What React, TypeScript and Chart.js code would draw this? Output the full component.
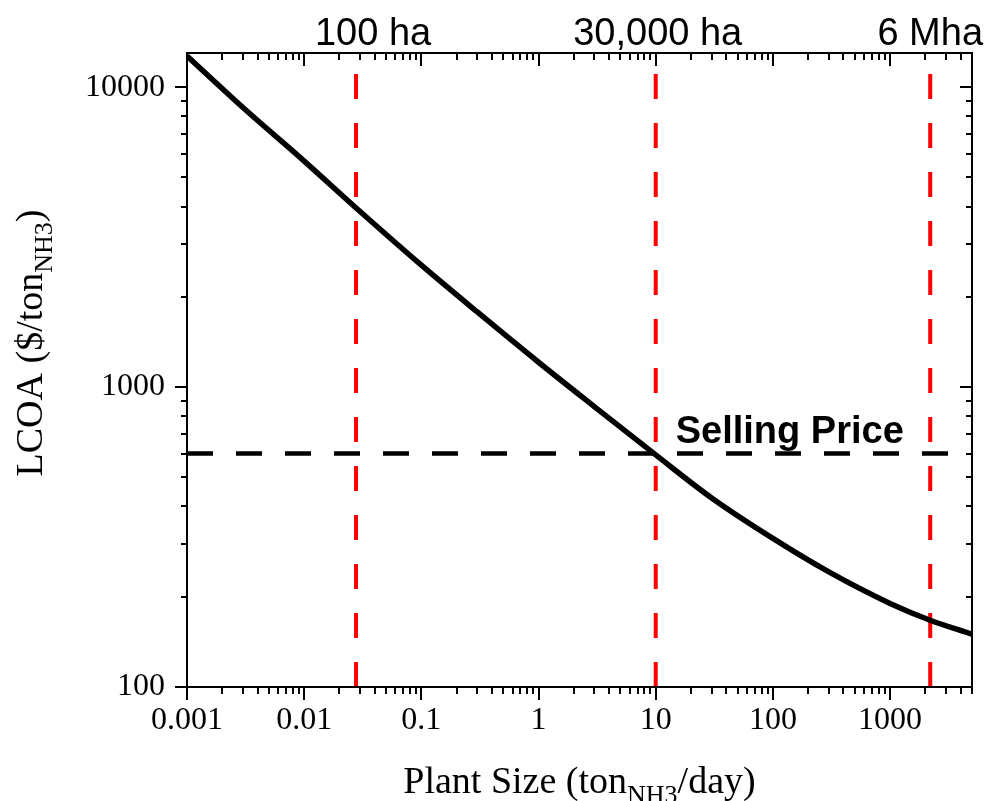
import React, { useEffect, useRef } from 'react';
import { Chart, registerables } from 'chart.js';

Chart.register(...registerables);

// ---- data ----
const plantSize = [0.001, 0.003, 0.01, 0.03, 0.1, 0.3, 1, 3, 10, 30, 100, 300, 1000, 2200, 5000];
const lcoa = [12700, 8550, 5670, 3850, 2550, 1780, 1210, 860, 594, 427, 313, 242, 190, 167, 150];

const landMarkerX = [0.0277, 10, 2200];
const landLabels = ['100 ha', '30,000 ha', '6 Mha'];
const landLabelX = [0.0387, 10.4, 2200];

const sellingPrice = 600;
const sellingLabel = 'Selling Price';
const sellingLabelX = 14.8;
const sellingLabelY = 652;

const xRange = [0.001, 5000];
const yRange = [100, 13000];
const xMajorTicks = [0.001, 0.01, 0.1, 1, 10, 100, 1000];
const yMajorTicks = [100, 1000, 10000];

const xTitle: [string, boolean][] = [['Plant Size (ton', false], ['NH3', true], ['/day)', false]];
const yTitle: [string, boolean][] = [['LCOA ($/ton', false], ['NH3', true], [')', false]];

// ---- helpers ----
const isPow10 = (v: number) => Math.abs(Math.log10(v) - Math.round(Math.log10(v))) < 1e-9;

function withMinors(majors: number[], min: number, max: number) {
  const out: { value: number; major: boolean }[] = [];
  majors.forEach((m) => {
    for (let k = 1; k <= 9; k++) {
      const v = +(m * k).toPrecision(6);
      if (v >= min - 1e-12 && v <= max + 1e-9) out.push({ value: v, major: k === 1 });
    }
  });
  out.sort((a, b) => a.value - b.value);
  return out;
}

const SERIF = '"Liberation Serif", "Times New Roman", serif';
const SANS = '"Liberation Sans", Arial, sans-serif';

function drawRich(ctx: CanvasRenderingContext2D, parts: [string, boolean][], cx: number, cy: number) {
  const mainFont = `38px ${SERIF}`;
  const subFont = `26px ${SERIF}`;
  let total = 0;
  const widths = parts.map(([t, sub]) => {
    ctx.font = sub ? subFont : mainFont;
    const w = ctx.measureText(t).width;
    total += w;
    return w;
  });
  let x = cx - total / 2;
  ctx.textAlign = 'left';
  ctx.textBaseline = 'alphabetic';
  parts.forEach(([t, sub], i) => {
    ctx.font = sub ? subFont : mainFont;
    ctx.fillText(t, x, cy + (sub ? 10 : 0));
    x += widths[i];
  });
}

const framePlugin = {
  id: 'framePlugin',
  afterDraw(chart: any) {
    const { ctx, chartArea } = chart;
    const xs = chart.scales.x;
    const ys = chart.scales.y;
    const { left, right, top, bottom } = chartArea;
    ctx.save();
    ctx.strokeStyle = '#000';
    ctx.lineWidth = 2;
    ctx.strokeRect(left, top, right - left, bottom - top);
    ctx.beginPath();
    xs.ticks.forEach((t: any) => {
      const px = Math.round(xs.getPixelForValue(t.value));
      const len = t.major ? 13 : 7;
      ctx.moveTo(px, bottom);
      ctx.lineTo(px, bottom + len);
      ctx.moveTo(px, top);
      ctx.lineTo(px, top + len);
    });
    ys.ticks.forEach((t: any) => {
      const py = Math.round(ys.getPixelForValue(t.value));
      const len = t.major ? 12 : 6;
      ctx.moveTo(left - len, py);
      ctx.lineTo(left, py);
      ctx.moveTo(right - len, py);
      ctx.lineTo(right, py);
    });
    ctx.stroke();

    // top labels
    ctx.fillStyle = '#000';
    ctx.font = `38px ${SANS}`;
    ctx.textAlign = 'center';
    ctx.textBaseline = 'alphabetic';
    landLabels.forEach((lab, i) => {
      ctx.fillText(lab, xs.getPixelForValue(landLabelX[i]), top - 8);
    });

    // selling price label
    ctx.font = `bold 38px ${SANS}`;
    ctx.textAlign = 'left';
    ctx.fillText(sellingLabel, xs.getPixelForValue(sellingLabelX), ys.getPixelForValue(sellingLabelY));

    // axis titles
    drawRich(ctx, xTitle, (left + right) / 2, 793);
    ctx.save();
    ctx.translate(42, (top + bottom) / 2 - 27);
    ctx.rotate(-Math.PI / 2);
    drawRich(ctx, yTitle, 0, 0);
    ctx.restore();
    ctx.restore();
  },
};

export default function App() {
  const ref = useRef<HTMLCanvasElement>(null);
  useEffect(() => {
    if (!ref.current) return;
    const datasets: any[] = [
      {
        label: 'LCOA',
        data: plantSize.map((x, i) => ({ x, y: lcoa[i] })),
        borderColor: '#000',
        borderWidth: 5.5,
        pointRadius: 0,
        cubicInterpolationMode: 'monotone',
        order: 0,
      },
      {
        label: 'Selling price',
        data: [
          { x: xRange[0], y: sellingPrice },
          { x: xRange[1], y: sellingPrice },
        ],
        borderColor: '#000',
        borderWidth: 4.5,
        borderDash: [26, 23],
        pointRadius: 0,
        order: 1,
      },
      ...landMarkerX.map((x) => ({
        label: 'marker',
        data: [
          { x, y: yRange[0] },
          { x, y: yRange[1] },
        ],
        borderColor: '#ff0000',
        borderWidth: 4,
        borderDash: [25, 24],
        pointRadius: 0,
        order: 2,
      })),
    ];
    const chart = new Chart(ref.current, {
      type: 'line',
      data: { datasets },
      options: {
        animation: false,
        responsive: false,
        devicePixelRatio: 1,
        layout: { padding: { top: 53, right: 17, left: 0, bottom: 0 } },
        plugins: { legend: { display: false }, tooltip: { enabled: false } },
        scales: {
          x: {
            type: 'logarithmic',
            min: xRange[0],
            max: xRange[1],
            grid: { display: false, drawTicks: false },
            border: { display: false },
            afterBuildTicks: (s: any) => {
              s.ticks = withMinors(xMajorTicks, xRange[0], xRange[1]);
            },
            afterFit: (s: any) => {
              s.height = 114;
            },
            ticks: {
              autoSkip: false,
              maxRotation: 0,
              padding: 14,
              color: '#000',
              font: { family: SERIF, size: 32 },
              callback: (v: any) => (isPow10(Number(v)) ? String(Number(v)) : ''),
            },
          },
          y: {
            type: 'logarithmic',
            min: yRange[0],
            max: yRange[1],
            grid: { display: false, drawTicks: false },
            border: { display: false },
            afterBuildTicks: (s: any) => {
              s.ticks = withMinors(yMajorTicks, yRange[0], yRange[1]);
            },
            afterFit: (s: any) => {
              s.width = 187;
            },
            ticks: {
              autoSkip: false,
              padding: 22,
              color: '#000',
              font: { family: SERIF, size: 32 },
              callback: (v: any) => (isPow10(Number(v)) ? String(Number(v)) : ''),
            },
          },
        },
      },
      plugins: [framePlugin],
    } as any);
    return () => chart.destroy();
  }, []);
  return (
    <div style={{ position: 'absolute', left: 0, top: 0, width: 989, height: 801, background: '#fff' }}>
      <canvas ref={ref} width={989} height={801} />
    </div>
  );
}
